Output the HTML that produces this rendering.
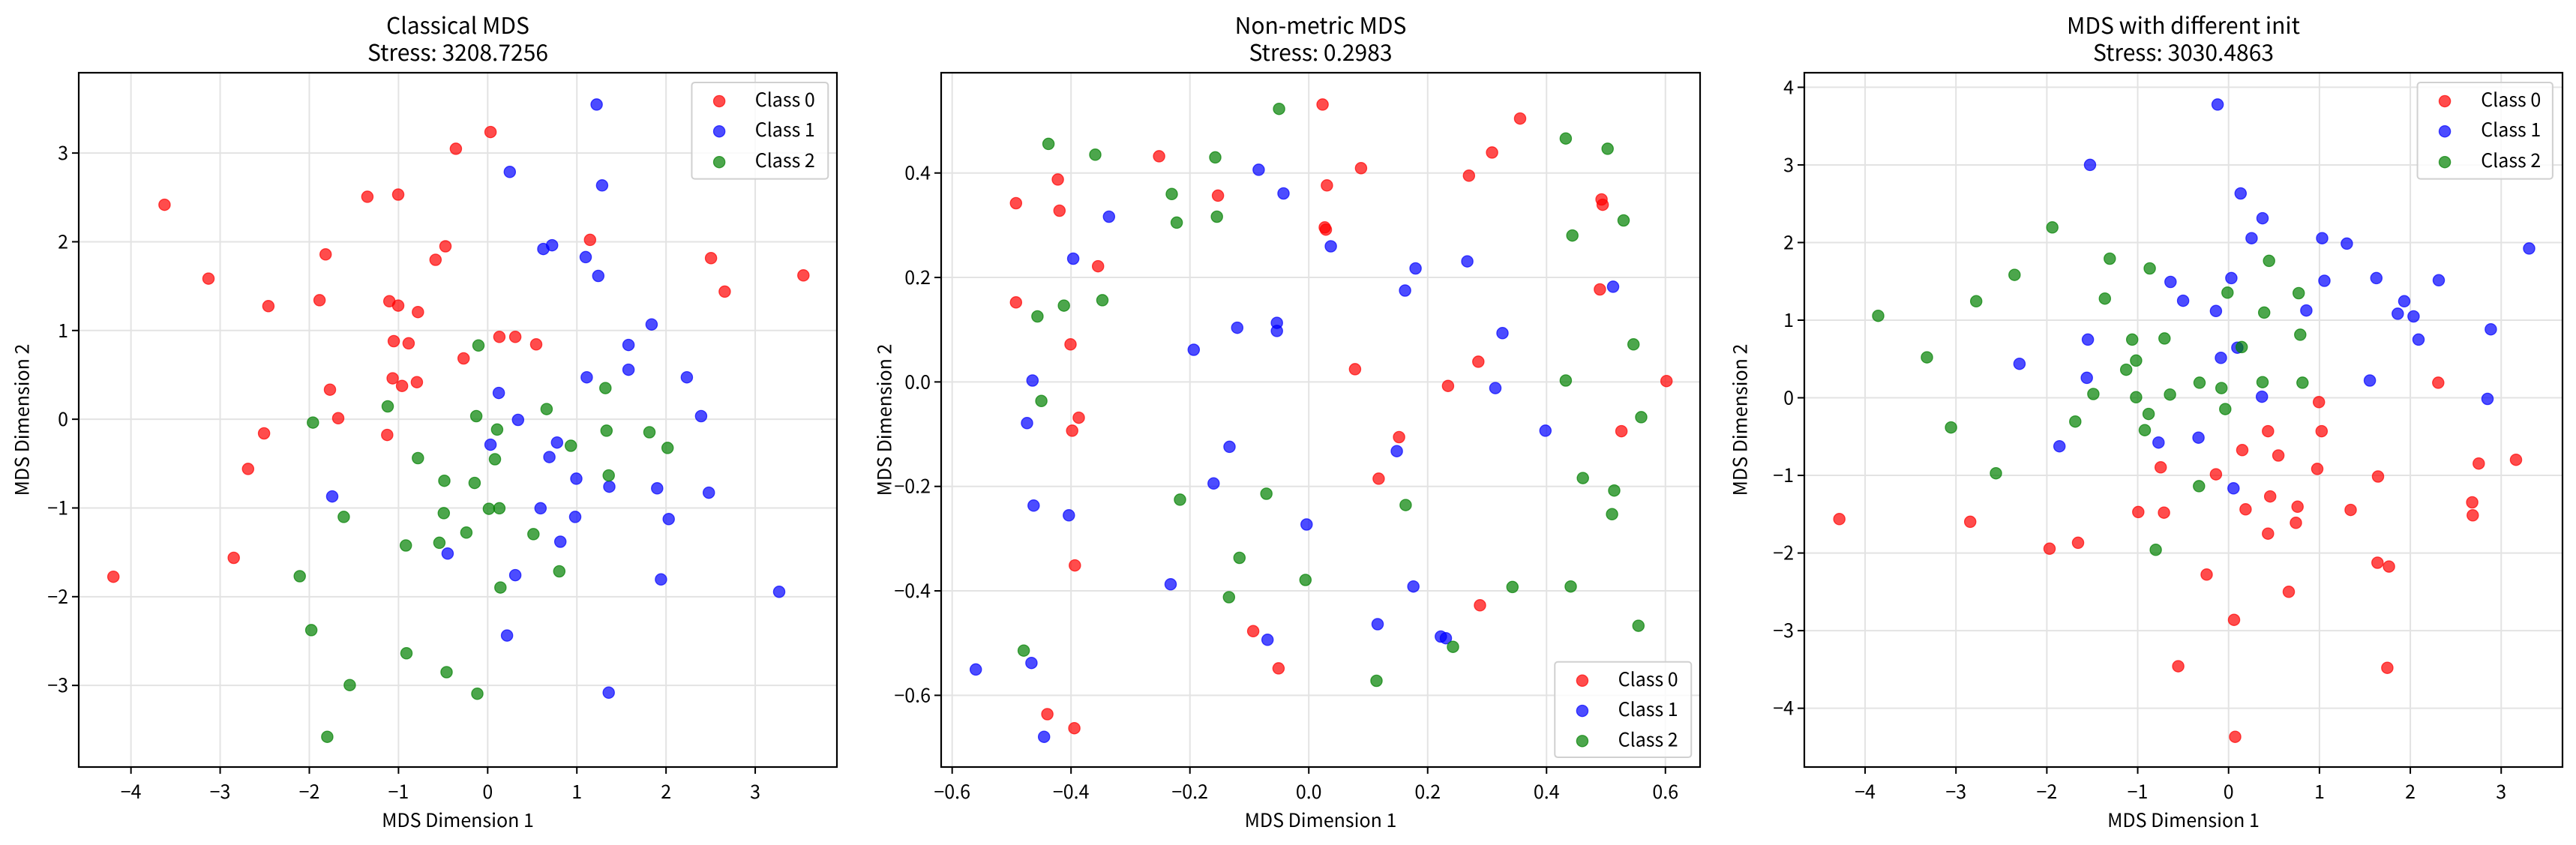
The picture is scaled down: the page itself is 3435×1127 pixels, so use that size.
<!DOCTYPE html>
<html><head><meta charset="utf-8">
<style>
html,body{margin:0;padding:0;background:#fff;}
svg{display:block;}
text{font-family:"Noto Sans CJK JP","Liberation Sans",sans-serif;fill:#000;}
</style></head>
<body>
<svg id="s" width="3435" height="1127" xmlns="http://www.w3.org/2000/svg"></svg>
<script>
const plots=[
{ox:105,zl:143,zr:1522,ow:1011,title:["Classical MDS","Stress: 3208.7256"],
 xt:{v:[-4,-3,-2,-1,0,1,2,3],z0:238,step:162.2,lab:v=>fmt(v,0)},
 yt:{v:[3,2,1,0,-1,-2,-3],z0:284,step:164.6,lab:v=>fmt(v,0)},
 leg:"top",
 R:[[299,380],[379,517],[488,568],[480,804],[451,870],[425,1035],[206,1070],[592,472],[581,557],[600,723],[615,776],[668,365],[724,361],[708,559],[724,567],[760,579],[716,633],[743,637],[714,702],[731,716],[758,709],[704,807],[792,482],[810,457],[829,276],[892,245],[843,665],[908,625],[937,625],[975,639],[1073,445],[1293,479],[1318,541],[1461,511]],
 B:[[1085,194],[927,319],[1095,344],[988,462],[1004,455],[1065,477],[1088,512],[1185,602],[1143,640],[1143,686],[1067,700],[1249,700],[1275,772],[907,729],[942,779],[892,825],[1013,821],[999,848],[1048,888],[1108,903],[1195,906],[1289,914],[983,943],[1046,959],[1216,963],[1019,1005],[814,1027],[937,1067],[1202,1075],[1417,1098],[922,1179],[1107,1285],[604,921]],
 G:[[870,641],[1101,720],[994,759],[705,754],[569,784],[866,772],[904,797],[1103,799],[1181,802],[1214,831],[1038,827],[900,852],[760,850],[808,892],[863,896],[1107,882],[889,944],[908,943],[807,952],[625,959],[848,988],[970,991],[799,1007],[738,1012],[1017,1060],[910,1090],[545,1069],[566,1169],[739,1212],[812,1247],[636,1271],[868,1287],[595,1367]]},
{ox:1255,zl:143,zr:1522,ow:1012,title:["Non-metric MDS","Stress: 0.2983"],
 xt:{v:[-0.6,-0.4,-0.2,0,0.2,0.4,0.6],z0:163,step:216,lab:v=>fmt(v,1)},
 yt:{v:[0.4,0.2,0,-0.2,-0.4,-0.6],z0:321,step:193.8,lab:v=>fmt(v,1)},
 leg:"bottom",
 R:[[836,194],[1195,220],[1144,283],[906,312],[1102,326],[844,344],[539,290],[646,363],[355,333],[279,377],[358,391],[840,422],[842,426],[1343,370],[1345,380],[428,494],[279,561],[1340,537],[378,639],[895,685],[1119,671],[1064,716],[1461,707],[393,775],[381,799],[975,811],[1379,800],[938,888],[386,1049],[1122,1123],[710,1171],[756,1240],[336,1325],[385,1351]],
 B:[[720,315],[765,359],[448,402],[383,480],[851,457],[1005,498],[1099,485],[986,539],[1364,532],[753,599],[753,614],[681,608],[602,649],[1163,618],[309,706],[1150,720],[299,785],[1241,799],[667,829],[971,837],[638,897],[311,938],[375,956],[807,973],[560,1084],[1001,1088],[936,1158],[736,1187],[1051,1181],[1060,1184],[307,1230],[206,1242],[330,1367]],
 G:[[757,202],[338,267],[423,287],[641,292],[1278,257],[1354,276],[562,360],[571,413],[644,402],[1383,409],[1290,437],[436,557],[366,567],[318,587],[1401,639],[1278,706],[325,744],[1415,774],[1309,887],[1366,910],[1362,954],[577,927],[734,916],[987,937],[685,1035],[805,1076],[666,1108],[1181,1089],[1287,1088],[1410,1161],[1073,1200],[934,1263],[293,1207]]},
{ox:2406,zl:157,zr:1542,ow:1011,title:["MDS with different init","Stress: 3030.4863"],
 xt:{v:[-4,-3,-2,-1,0,1,2,3],z0:268,step:166,lab:v=>fmt(v,0)},
 yt:{v:[4,3,2,1,0,-1,-2,-3,-4],z0:162,step:144,lab:v=>fmt(v,0)},
 leg:"top",
 R:[[1315,710],[1097,746],[1004,800],[1102,800],[957,835],[1023,845],[1389,860],[1457,853],[808,867],[909,880],[1094,870],[1205,884],[1008,921],[1377,932],[1378,956],[963,945],[1058,940],[1155,946],[767,950],[814,951],[1055,970],[1004,990],[221,963],[460,968],[605,1018],[657,1007],[1204,1044],[1225,1051],[892,1066],[1042,1098],[942,1150],[840,1236],[1222,1239],[944,1367]],
 B:[[912,194],[679,306],[954,359],[994,405],[974,442],[1103,442],[1148,452],[1481,461],[826,523],[937,516],[1107,521],[1202,516],[1316,520],[849,558],[909,577],[1074,576],[1253,559],[1241,582],[1270,587],[1411,611],[675,630],[1279,630],[918,664],[948,645],[550,675],[673,701],[993,736],[1190,706],[1405,740],[623,828],[804,821],[877,812],[941,906]],
 G:[[610,422],[715,480],[788,498],[541,510],[471,559],[292,586],[706,554],[1006,484],[930,543],[997,580],[1060,544],[756,630],[815,628],[1063,621],[956,644],[763,669],[745,686],[381,663],[685,731],[763,737],[825,732],[879,710],[919,720],[994,709],[1067,710],[926,759],[786,768],[652,782],[779,798],[425,793],[507,878],[878,902],[799,1020]]}
];
function fmt(v,d){let s=Math.abs(v).toFixed(d);if(Math.abs(v)<1e-9)return (0).toFixed(d);return (v<0?"\u2212":"")+s;}
const TOP=97,BOT=1023,ZT=135,ZB=1423,sy=(BOT-TOP)/(ZB-ZT);
let h="";
const cols={R:"#ff0000",B:"#0000ff",G:"#008000"};
for(const p of plots){
  const sx=p.ow/(p.zr-p.zl);
  const X=z=>p.ox+(z-p.zl)*sx, Y=z=>TOP+(z-ZT)*sy;
  const L=p.ox,Rr=p.ox+p.ow,cx=(L+Rr)/2;
  // grid
  p.xt.v.forEach((v,i)=>{const x=X(p.xt.z0+i*p.xt.step);h+=`<line x1="${x}" y1="${TOP}" x2="${x}" y2="${BOT}" stroke="#e3e3e3" stroke-width="2"/>`;});
  p.yt.v.forEach((v,i)=>{const y=Y(p.yt.z0+i*p.yt.step);h+=`<line x1="${L}" y1="${y}" x2="${Rr}" y2="${y}" stroke="#e3e3e3" stroke-width="2"/>`;});
  // points
  for(const k of ["R","B","G"]){for(const [zx,zy] of p[k]){h+=`<circle cx="${X(zx).toFixed(1)}" cy="${Y(zy).toFixed(1)}" r="7.6" fill="${cols[k]}" fill-opacity="0.7" stroke="${cols[k]}" stroke-opacity="0.7" stroke-width="1.3"/>`;}}
  // spines
  h+=`<rect x="${L}" y="${TOP}" width="${p.ow}" height="${BOT-TOP}" fill="none" stroke="#000" stroke-width="2.2"/>`;
  // ticks
  p.xt.v.forEach((v,i)=>{const x=X(p.xt.z0+i*p.xt.step);h+=`<line x1="${x}" y1="${BOT}" x2="${x}" y2="${BOT+9}" stroke="#000" stroke-width="2"/><text x="${x}" y="${BOT+42}" font-size="25" text-anchor="middle">${p.xt.lab(v)}</text>`;});
  p.yt.v.forEach((v,i)=>{const y=Y(p.yt.z0+i*p.yt.step);h+=`<line x1="${L-9}" y1="${y}" x2="${L}" y2="${y}" stroke="#000" stroke-width="2"/><text x="${L-14}" y="${y+9}" font-size="25" text-anchor="end">${p.yt.lab(v)}</text>`;});
  // labels
  h+=`<text x="${cx}" y="${BOT+80}" font-size="25" text-anchor="middle">MDS Dimension 1</text>`;
  const lx=L-(p.zl-40)*sx+9;
  h+=`<text transform="translate(${lx},${(TOP+BOT)/2}) rotate(-90)" font-size="25" text-anchor="middle">MDS Dimension 2</text>`;
  h+=`<text x="${cx}" y="45" font-size="30" text-anchor="middle">${p.title[0]}</text><text x="${cx}" y="81" font-size="30" text-anchor="middle">${p.title[1]}</text>`;
  // legend
  const bx0=X(p.zl===157?1277:1258), bx1=X(p.zl===157?1524:1506);
  let by0,by1,rows;
  if(p.leg==="top"){by0=Y(153);by1=Y(332);rows=[185,241,298];}else{by0=Y(1228);by1=Y(1405);rows=[1260,1316,1372];}
  h+=`<rect x="${bx0}" y="${by0}" width="${bx1-bx0}" height="${by1-by0}" rx="4" fill="#fff" fill-opacity="0.8" stroke="#d0d0d0" stroke-width="2"/>`;
  const mx=X(p.zl===157?1327:1308), tx=X(p.zl===157?1393:1373);
  ["R","B","G"].forEach((k,i)=>{const y=Y(rows[i]);h+=`<circle cx="${mx}" cy="${y+2}" r="7.6" fill="${cols[k]}" fill-opacity="0.7" stroke="${cols[k]}" stroke-opacity="0.7" stroke-width="1.3"/><text x="${tx}" y="${y+9}" font-size="25">Class ${i}</text>`;});
}
document.getElementById("s").innerHTML=h;
</script>
</body></html>
